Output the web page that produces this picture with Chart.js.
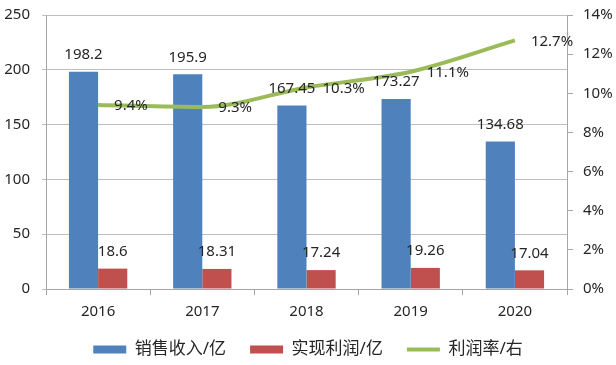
<!DOCTYPE html>
<html><head><meta charset="utf-8">
<script src="https://cdn.jsdelivr.net/npm/chart.js@4.4.1/dist/chart.umd.min.js"></script>
<style>html,body{margin:0;padding:0;background:#fff}#wrap{width:616px;height:365px}</style>
</head><body><div id="wrap"><canvas id="c" width="616" height="365"></canvas></div>
<script>
const categories = ['2016','2017','2018','2019','2020'];
const salesRevenue = [198.2, 195.9, 167.45, 173.27, 134.68];
const realizedProfit = [18.6, 18.31, 17.24, 19.26, 17.04];
const profitRate = [9.4, 9.3, 10.3, 11.1, 12.7];
const leftTicks = [0, 50, 100, 150, 200, 250];
const rightTicks = [0, 2, 4, 6, 8, 10, 12, 14];
const seriesNames = ['销售收入/亿', '实现利润/亿', '利润率/右'];

const FONT = '"Noto Sans", "Noto Sans CJK SC", sans-serif';
const TXT = '#262626';

const labelPlugin = {
  id: 'valueLabels',
  beforeUpdate(chart) {
    const lg = chart.legend;
    if (lg && !lg._patched) {
      const orig = lg.fit.bind(lg);
      lg.fit = function () { orig(); this.height = 42; };
      lg._patched = true;
    }
  },
  afterDatasetsDraw(chart) {
    const ctx = chart.ctx;
    ctx.save();
    ctx.font = '15px ' + FONT;
    ctx.fillStyle = TXT;
    ctx.textBaseline = 'middle';
    chart.data.datasets.forEach((ds, di) => {
      const meta = chart.getDatasetMeta(di);
      meta.data.forEach((el, i) => {
        const v = ds.data[i];
        if (ds.type === 'line') {
          ctx.textAlign = 'left';
          ctx.fillText(v.toFixed(1) + '%', el.x + 16, el.y + 1);
        } else {
          ctx.textAlign = 'center';
          ctx.fillText(String(v), el.x, el.y - 17);
        }
      });
    });
    ctx.restore();
  }
};

function fixPad(s) { s.paddingTop = 8; s.paddingBottom = 8; }

new Chart(document.getElementById('c'), {
  data: {
    labels: categories,
    datasets: [
      { type: 'bar', label: seriesNames[0], data: salesRevenue, backgroundColor: '#4F81BD', yAxisID: 'y',
        categoryPercentage: 0.56, barPercentage: 1.0, pointStyle: 'rect', order: 1 },
      { type: 'bar', label: seriesNames[1], data: realizedProfit, backgroundColor: '#C0504D', yAxisID: 'y',
        categoryPercentage: 0.56, barPercentage: 1.0, pointStyle: 'rect', order: 1 },
      { type: 'line', label: seriesNames[2], data: profitRate, borderColor: '#9BBB59', backgroundColor: '#9BBB59',
        borderWidth: 4, pointRadius: 0, cubicInterpolationMode: 'monotone', yAxisID: 'y1', pointStyle: 'line', order: 0 }
    ]
  },
  options: {
    responsive: false,
    animation: false,
    devicePixelRatio: 1,
    layout: { padding: { top: 15, bottom: 6, left: 0, right: 0 } },
    plugins: {
      tooltip: { enabled: false },
      legend: {
        position: 'bottom',
        labels: {
          usePointStyle: true, pointStyleWidth: 33, boxHeight: 8, padding: 24,
          font: { size: 17, family: FONT }, color: TXT,
          sort: (a, b) => a.datasetIndex - b.datasetIndex
        }
      }
    },
    scales: {
      x: {
        type: 'category', offset: true,
        grid: { offset: true, drawOnChartArea: false, tickLength: 6, color: '#A6A6A6' },
        border: { display: true, color: '#A6A6A6' },
        ticks: { font: { size: 15, family: FONT }, color: TXT, padding: 8 },
        afterFit(s) { s.height = 28; }
      },
      y: {
        position: 'left', min: 0, max: 250,
        afterBuildTicks(s) { s.ticks = leftTicks.map(v => ({ value: v })); },
        grid: { color: '#BFBFBF', tickLength: 4 },
        border: { display: true, color: '#A6A6A6' },
        ticks: { font: { size: 15, family: FONT }, color: TXT, padding: 12 },
        afterFit(s) { s.width = 46; fixPad(s); }
      },
      y1: {
        position: 'right', min: 0, max: 14,
        afterBuildTicks(s) { s.ticks = rightTicks.map(v => ({ value: v })); },
        grid: { drawOnChartArea: false, tickLength: 6, color: '#A6A6A6' },
        border: { display: true, color: '#A6A6A6' },
        ticks: { font: { size: 15, family: FONT }, color: TXT, padding: 10, callback: v => v + '%' },
        afterFit(s) { s.width = 49; fixPad(s); }
      }
    }
  },
  plugins: [labelPlugin]
});
</script></body></html>
